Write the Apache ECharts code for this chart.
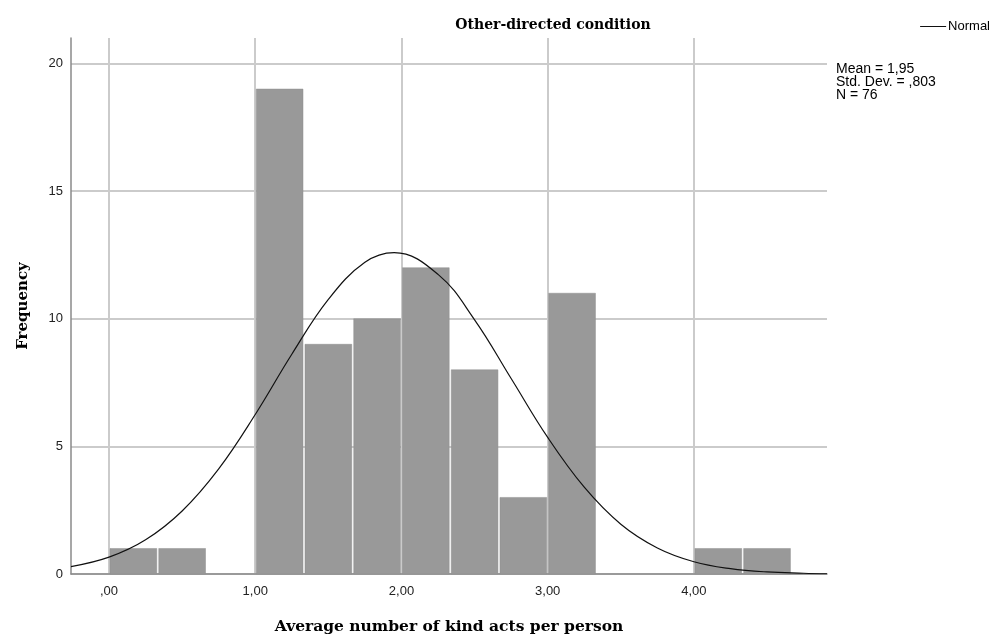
<!DOCTYPE html>
<html>
<head>
<meta charset="utf-8">
<script src="https://cdn.jsdelivr.net/npm/echarts@6/dist/echarts.min.js"></script>
<style>
  html, body { margin: 0; padding: 0; background: #fff; }
  #chart { width: 992px; height: 640px; }
</style>
</head>
<body>
<div id="chart"></div>
<script>
// histogram bins (left edge, width 1/3) and counts
var binStarts = [0, 1/3, 2/3, 1, 4/3, 5/3, 2, 7/3, 8/3, 3, 10/3, 11/3, 4, 13/3];
var counts    = [1, 1, 0, 19, 9, 10, 12, 8, 3, 11, 0, 0, 1, 1];
var binWidth = 1/3;

// normal curve
var curveX = [-0.26, 0, 0.25, 0.5, 0.75, 1.0, 1.25, 1.5, 1.75, 1.95, 2.25, 2.5, 2.75, 3.0, 3.25, 3.5, 3.75, 4.0, 4.25, 4.5, 4.75, 4.91];
var curveY = [0.29, 0.66, 1.34, 2.47, 4.12, 6.25, 8.61, 10.76, 12.21, 12.59, 11.74, 9.96, 7.66, 5.35, 3.40, 1.95, 1.02, 0.48, 0.21, 0.08, 0.03, 0.01];

var xTicks = [0, 1, 2, 3, 4];
var xTickLabels = [',00', '1,00', '2,00', '3,00', '4,00'];
var yTicks = [0, 5, 10, 15, 20];
var stats = ['Mean = 1,95', 'Std. Dev. = ,803', 'N = 76'];

var barData = [];
for (var i = 0; i < binStarts.length; i++) {
    if (counts[i] > 0) barData.push([binStarts[i], binStarts[i] + binWidth, counts[i]]);
}
var curveData = curveX.map(function (x, i) { return [x, curveY[i]]; });

var serifBold = { fontFamily: 'DejaVu Serif', fontWeight: 'bold', color: '#000' };

var chart = echarts.init(document.getElementById('chart'));
chart.setOption({
    animation: false,
    title: {
        text: 'Other-directed condition',
        left: 548, top: 13, textAlign: 'center',
        textStyle: Object.assign({ fontSize: 14 }, serifBold)
    },
    legend: {
        right: -3, top: 15,
        itemWidth: 26, itemHeight: 10, itemGap: 4,
        data: [{ name: 'Normal', icon: 'path://M0,5 L26,5 L26,6 L0,6 Z' }],
        textStyle: { fontFamily: 'Liberation Sans', fontSize: 13, color: '#000', padding: [0, 0, 0, -3] }
    },
    grid: { left: 71, right: 165, top: 38, bottom: 65, containLabel: false },
    xAxis: {
        type: 'value', min: -0.26, max: 4.91,
        name: 'Average number of kind acts per person',
        nameLocation: 'middle', nameGap: 45,
        nameTextStyle: Object.assign({ fontSize: 15.5 }, serifBold),
        axisLine: { show: true, onZero: false, lineStyle: { color: '#8a8a8a', width: 1.5 } },
        axisTick: { show: false, customValues: xTicks },
        axisLabel: {
            customValues: xTicks, margin: 11,
            fontFamily: 'Liberation Sans', fontSize: 13, color: '#222',
            formatter: function (v) { return xTickLabels[xTicks.indexOf(Math.round(v))]; }
        },
        splitLine: { show: true, lineStyle: { color: '#cbcbcb', width: 2 } }
    },
    yAxis: {
        type: 'value', min: 0, max: 21,
        name: 'Frequency',
        nameLocation: 'middle', nameGap: 40, nameRotate: 90,
        nameTextStyle: Object.assign({ fontSize: 15 }, serifBold),
        axisLine: { show: true, onZero: false, lineStyle: { color: '#8a8a8a', width: 1.5 } },
        axisTick: { show: false, customValues: yTicks },
        axisLabel: { customValues: yTicks, margin: 8, fontFamily: 'Liberation Sans', fontSize: 13, color: '#222' },
        splitLine: { show: true, lineStyle: { color: '#cbcbcb', width: 2 } }
    },
    graphic: [{
        type: 'text', left: 836, top: 62,
        style: { text: stats.join('\n'), font: '14px "Liberation Sans"', fill: '#000', lineHeight: 13 }
    }],
    series: [{
        name: 'Histogram',
        type: 'custom',
        data: barData,
        encode: { x: [0, 1], y: 2 },
        renderItem: function (params, api) {
            var p0 = api.coord([api.value(0), api.value(2)]);
            var p1 = api.coord([api.value(1), 0]);
            return {
                type: 'rect',
                shape: { x: p0[0] + 1, y: p0[1], width: p1[0] - p0[0] - 2, height: p1[1] - p0[1] },
                style: { fill: '#999999', stroke: '#8f8f8f', lineWidth: 0.5 }
            };
        },
        z: 2
    }, {
        name: 'Normal',
        type: 'line',
        data: curveData,
        smooth: 0.4,
        symbol: 'none',
        lineStyle: { color: '#111', width: 1.2 },
        itemStyle: { color: '#111' },
        z: 3
    }]
});
</script>
</body>
</html>
